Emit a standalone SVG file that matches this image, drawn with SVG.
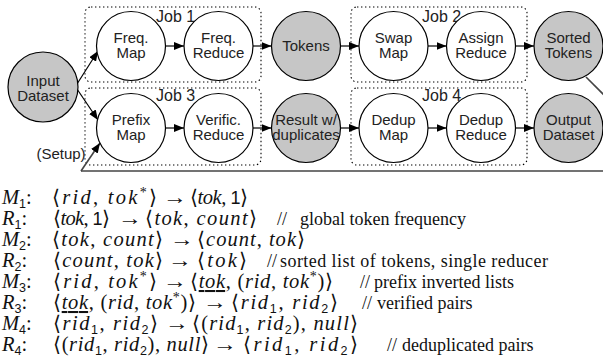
<svg xmlns="http://www.w3.org/2000/svg" width="603" height="363" viewBox="0 0 603 363">
<style>
.n circle{stroke:#000;stroke-width:1.2;fill:#fff}
.n.g circle{fill:#c6c6c6}
.n text,.lb{font-family:"Liberation Sans",Arial,sans-serif;font-size:15px;fill:#222;text-anchor:middle}
.job{fill:none;stroke:#000;stroke-width:1.1;stroke-dasharray:1.4 2.6}
.jl{font-family:"Liberation Sans",Arial,sans-serif;font-size:16px;fill:#222}
.cn{stroke:#000;stroke-width:1.2;fill:none}
.setup{stroke:#444;stroke-width:1.6;fill:none}
.m{font-family:"Liberation Serif","DejaVu Serif",serif;font-size:20.5px;fill:#111}
.i{font-style:italic}
.s{font-family:"Liberation Sans",Arial,sans-serif;font-size:12.5px;font-style:normal}
.one{font-family:"Liberation Sans",Arial,sans-serif;font-size:18px;font-style:normal}
.sup{font-size:14px}
.u{text-decoration:underline}
.c{font-family:"Liberation Serif","Times New Roman",serif;font-size:18px;fill:#111}
</style>
<defs>
<marker id="ah" viewBox="0 0 10 8" refX="10" refY="4" markerWidth="10" markerHeight="8" orient="auto" markerUnits="userSpaceOnUse"><path d="M0,0 L10,4 L0,8 z" fill="#000"/></marker>
</defs>

<g id="jobs">
<rect class="job" x="85" y="7" width="176" height="75" rx="6"/>
<rect class="job" x="85" y="88" width="176" height="77" rx="6"/>
<rect class="job" x="351" y="7" width="176" height="75" rx="6"/>
<rect class="job" x="351" y="88" width="176" height="77" rx="6"/>
<text class="jl" x="156" y="22">Job 1</text>
<text class="jl" x="156" y="101">Job 3</text>
<text class="jl" x="422" y="22">Job 2</text>
<text class="jl" x="422" y="101">Job 4</text>
</g>

<g id="connectors">
<line class="cn" x1="77" y1="84" x2="98" y2="51" marker-end="url(#ah)"/>
<line class="cn" x1="77" y1="89" x2="98" y2="120" marker-end="url(#ah)"/>
<line class="cn" x1="165.5" y1="46" x2="184" y2="46" marker-end="url(#ah)"/>
<line class="cn" x1="253" y1="46" x2="271.5" y2="46" marker-end="url(#ah)"/>
<line class="cn" x1="340.5" y1="46" x2="359" y2="46" marker-end="url(#ah)"/>
<line class="cn" x1="428" y1="46" x2="446.5" y2="46" marker-end="url(#ah)"/>
<line class="cn" x1="515.5" y1="46" x2="534" y2="46" marker-end="url(#ah)"/>
<line class="cn" x1="165.5" y1="128" x2="184" y2="128" marker-end="url(#ah)"/>
<line class="cn" x1="253" y1="128" x2="271.5" y2="128" marker-end="url(#ah)"/>
<line class="cn" x1="340.5" y1="128" x2="359" y2="128" marker-end="url(#ah)"/>
<line class="cn" x1="428" y1="128" x2="446.5" y2="128" marker-end="url(#ah)"/>
<line class="cn" x1="515.5" y1="128" x2="534" y2="128" marker-end="url(#ah)"/>
<line class="setup" x1="586" y1="77" x2="612" y2="103"/>
<line class="setup" x1="603" y1="171" x2="81" y2="171"/>
<line class="setup" x1="81" y1="171" x2="100" y2="143" marker-end="url(#ah)"/>
<text class="lb" x="61" y="159">(Setup)</text>
</g>

<g id="input" class="n g"><circle cx="43" cy="87" r="35"/><text x="43" y="86">Input</text><text x="43" y="101">Dataset</text></g>
<g id="freqmap" class="n"><circle cx="131" cy="46" r="34.5"/><text x="131" y="43">Freq.</text><text x="131" y="58">Map</text></g>
<g id="freqreduce" class="n"><circle cx="218.5" cy="46" r="34.5"/><text x="218.5" y="43">Freq.</text><text x="218.5" y="58">Reduce</text></g>
<g id="tokens" class="n g"><circle cx="306" cy="46" r="34.5"/><text x="306" y="51">Tokens</text></g>
<g id="swapmap" class="n"><circle cx="393.5" cy="46" r="34.5"/><text x="393.5" y="43">Swap</text><text x="393.5" y="58">Map</text></g>
<g id="assignreduce" class="n"><circle cx="481" cy="46" r="34.5"/><text x="481" y="43">Assign</text><text x="481" y="58">Reduce</text></g>
<g id="sortedtokens" class="n g"><circle cx="568.5" cy="46" r="34.5"/><text x="568.5" y="43">Sorted</text><text x="568.5" y="58">Tokens</text></g>
<g id="prefixmap" class="n"><circle cx="131" cy="128" r="34.5"/><text x="131" y="125">Prefix</text><text x="131" y="140">Map</text></g>
<g id="verificreduce" class="n"><circle cx="218.5" cy="128" r="34.5"/><text x="218.5" y="125">Verific.</text><text x="218.5" y="140">Reduce</text></g>
<g id="result" class="n g"><circle cx="306" cy="128" r="34.5"/><text x="306" y="125">Result w/</text><text x="306" y="140">duplicates</text></g>
<g id="dedupmap" class="n"><circle cx="393.5" cy="128" r="34.5"/><text x="393.5" y="125">Dedup</text><text x="393.5" y="140">Map</text></g>
<g id="dedupreduce" class="n"><circle cx="481" cy="128" r="34.5"/><text x="481" y="125">Dedup</text><text x="481" y="140">Reduce</text></g>
<g id="output" class="n g"><circle cx="568.5" cy="128" r="34.5"/><text x="568.5" y="125">Output</text><text x="568.5" y="140">Dataset</text></g>

<g id="formulas">
<!-- M1 -->
<text class="m" x="2" y="204"><tspan class="i">M</tspan><tspan class="s" dy="4">1</tspan><tspan dy="-4">:</tspan></text>
<text class="m" x="52" y="204" textLength="105" lengthAdjust="spacing">⟨<tspan class="i">rid</tspan>, <tspan class="i">tok</tspan><tspan class="sup" dy="-7">*</tspan><tspan dy="7">⟩</tspan></text>
<text class="m" x="163" y="204" textLength="24" lengthAdjust="spacingAndGlyphs">→</text>
<text class="m" x="190" y="204" textLength="58" lengthAdjust="spacing">⟨<tspan class="i">tok</tspan>, <tspan class="one">1</tspan>⟩</text>
<!-- R1 -->
<text class="m" x="2" y="225"><tspan class="i">R</tspan><tspan class="s" dy="4">1</tspan><tspan dy="-4">:</tspan></text>
<text class="m" x="53" y="225" textLength="57" lengthAdjust="spacing">⟨<tspan class="i">tok</tspan>, <tspan class="one">1</tspan>⟩</text>
<text class="m" x="118" y="225" textLength="24" lengthAdjust="spacingAndGlyphs">→</text>
<text class="m" x="145" y="225" textLength="112" lengthAdjust="spacing">⟨<tspan class="i">tok</tspan>, <tspan class="i">count</tspan>⟩</text>
<text class="c" x="277" y="225">//<tspan x="300">global token frequency</tspan></text>
<!-- M2 -->
<text class="m" x="2" y="246"><tspan class="i">M</tspan><tspan class="s" dy="4">2</tspan><tspan dy="-4">:</tspan></text>
<text class="m" x="52" y="246" textLength="111" lengthAdjust="spacing">⟨<tspan class="i">tok</tspan>, <tspan class="i">count</tspan>⟩</text>
<text class="m" x="170" y="246" textLength="24" lengthAdjust="spacingAndGlyphs">→</text>
<text class="m" x="197" y="246" textLength="108" lengthAdjust="spacing">⟨<tspan class="i">count</tspan>, <tspan class="i">tok</tspan>⟩</text>
<!-- R2 -->
<text class="m" x="2" y="267"><tspan class="i">R</tspan><tspan class="s" dy="4">2</tspan><tspan dy="-4">:</tspan></text>
<text class="m" x="53" y="267" textLength="110" lengthAdjust="spacing">⟨<tspan class="i">count</tspan>, <tspan class="i">tok</tspan>⟩</text>
<text class="m" x="168" y="267" textLength="24" lengthAdjust="spacingAndGlyphs">→</text>
<text class="m" x="197" y="267" textLength="50" lengthAdjust="spacing">⟨<tspan class="i">tok</tspan>⟩</text>
<text class="c" x="267" y="267">//<tspan x="280" textLength="268" lengthAdjust="spacing">sorted list of tokens, single reducer</tspan></text>
<!-- M3 -->
<text class="m" x="2" y="288"><tspan class="i">M</tspan><tspan class="s" dy="4">3</tspan><tspan dy="-4">:</tspan></text>
<text class="m" x="53" y="288" textLength="104" lengthAdjust="spacing">⟨<tspan class="i">rid</tspan>, <tspan class="i">tok</tspan><tspan class="sup" dy="-7">*</tspan><tspan dy="7">⟩</tspan></text>
<text class="m" x="163" y="288" textLength="24" lengthAdjust="spacingAndGlyphs">→</text>
<text class="m" x="190" y="288" textLength="143" lengthAdjust="spacing">⟨<tspan class="i u">tok</tspan>, (<tspan class="i">rid</tspan>, <tspan class="i">tok</tspan><tspan class="sup" dy="-7">*</tspan><tspan dy="7">)⟩</tspan></text>
<text class="c" x="360" y="288">//<tspan x="374">prefix inverted lists</tspan></text>
<!-- R3 -->
<text class="m" x="2" y="309"><tspan class="i">R</tspan><tspan class="s" dy="4">3</tspan><tspan dy="-4">:</tspan></text>
<text class="m" x="53" y="309" textLength="143" lengthAdjust="spacing">⟨<tspan class="i u">tok</tspan>, (<tspan class="i">rid</tspan>, <tspan class="i">tok</tspan><tspan class="sup" dy="-7">*</tspan><tspan dy="7">)⟩</tspan></text>
<text class="m" x="203" y="309" textLength="24" lengthAdjust="spacingAndGlyphs">→</text>
<text class="m" x="231" y="309" textLength="107" lengthAdjust="spacing">⟨<tspan class="i">rid</tspan><tspan class="s" dy="4">1</tspan><tspan dy="-4">, </tspan><tspan class="i">rid</tspan><tspan class="s" dy="4">2</tspan><tspan dy="-4">⟩</tspan></text>
<text class="c" x="362" y="309">//<tspan x="377">verified pairs</tspan></text>
<!-- M4 -->
<text class="m" x="2" y="330"><tspan class="i">M</tspan><tspan class="s" dy="4">4</tspan><tspan dy="-4">:</tspan></text>
<text class="m" x="53" y="330" textLength="105" lengthAdjust="spacing">⟨<tspan class="i">rid</tspan><tspan class="s" dy="4">1</tspan><tspan dy="-4">, </tspan><tspan class="i">rid</tspan><tspan class="s" dy="4">2</tspan><tspan dy="-4">⟩</tspan></text>
<text class="m" x="165" y="330" textLength="24" lengthAdjust="spacingAndGlyphs">→</text>
<text class="m" x="192" y="330" textLength="166" lengthAdjust="spacing">⟨(<tspan class="i">rid</tspan><tspan class="s" dy="4">1</tspan><tspan dy="-4">, </tspan><tspan class="i">rid</tspan><tspan class="s" dy="4">2</tspan><tspan dy="-4">), </tspan><tspan class="i">null</tspan>⟩</text>
<!-- R4 -->
<text class="m" x="2" y="351"><tspan class="i">R</tspan><tspan class="s" dy="4">4</tspan><tspan dy="-4">:</tspan></text>
<text class="m" x="53" y="351" textLength="156" lengthAdjust="spacing">⟨(<tspan class="i">rid</tspan><tspan class="s" dy="4">1</tspan><tspan dy="-4">, </tspan><tspan class="i">rid</tspan><tspan class="s" dy="4">2</tspan><tspan dy="-4">), </tspan><tspan class="i">null</tspan>⟩</text>
<text class="m" x="213" y="351" textLength="24" lengthAdjust="spacingAndGlyphs">→</text>
<text class="m" x="243" y="351" textLength="115" lengthAdjust="spacing">⟨<tspan class="i">rid</tspan><tspan class="s" dy="4">1</tspan><tspan dy="-4">, </tspan><tspan class="i">rid</tspan><tspan class="s" dy="4">2</tspan><tspan dy="-4">⟩</tspan></text>
<text class="c" x="387" y="351">//<tspan x="402">deduplicated pairs</tspan></text>
</g>
</svg>
